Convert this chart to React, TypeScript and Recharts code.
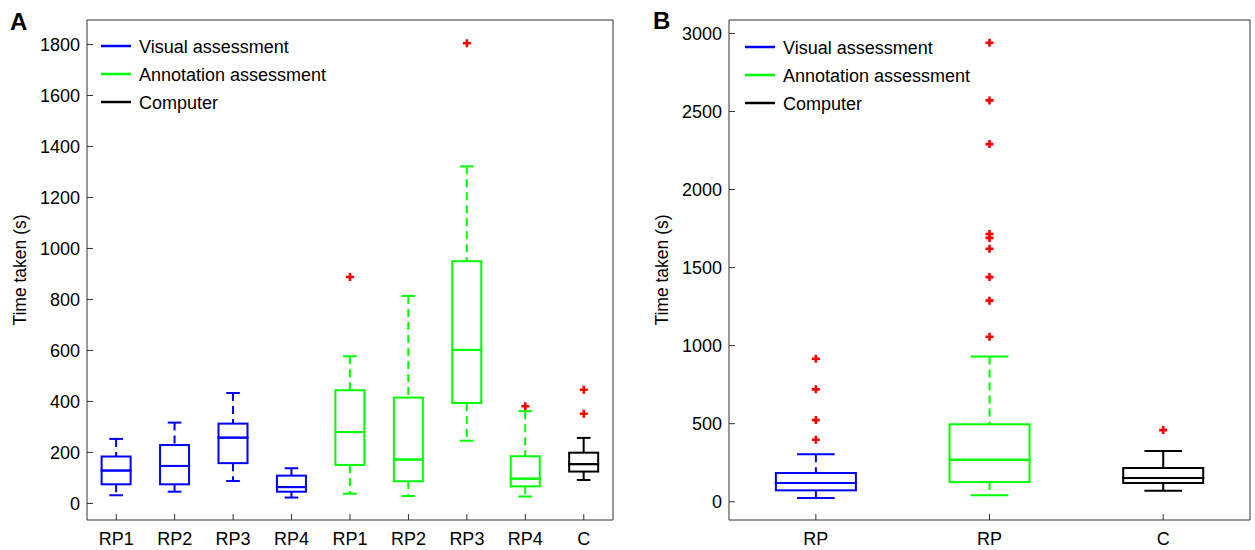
import { Bar, ComposedChart, Scatter, XAxis, YAxis } from 'recharts'

// Panel A: per-reader time, nine boxes
const A_KEYS = ['V-RP1', 'V-RP2', 'V-RP3', 'V-RP4', 'A-RP1', 'A-RP2', 'A-RP3', 'A-RP4', 'C']
const A_LABELS = ['RP1', 'RP2', 'RP3', 'RP4', 'RP1', 'RP2', 'RP3', 'RP4', 'C']
const A_GROUPS = ['visual', 'visual', 'visual', 'visual', 'annotation', 'annotation', 'annotation', 'annotation', 'computer']
const A_LO = [32, 46, 88, 23, 38, 29, 246, 27, 92]
const A_Q1 = [75, 75, 158, 46, 151, 87, 394, 67, 125]
const A_MED = [129, 147, 258, 64, 280, 172, 602, 97, 154]
const A_Q3 = [184, 229, 313, 109, 444, 415, 950, 185, 199]
const A_HI = [253, 317, 433, 138, 577, 814, 1322, 362, 257]
const A_OUT = [[], [], [], [], [888], [], [1805], [381], [446, 352]]
const A_TICKS = [0, 200, 400, 600, 800, 1000, 1200, 1400, 1600, 1800]

// Panel B: pooled
const B_KEYS = ['V-RP', 'A-RP', 'C']
const B_LABELS = ['RP', 'RP', 'C']
const B_GROUPS = ['visual', 'annotation', 'computer']
const B_LO = [24, 41, 70]
const B_Q1 = [73, 126, 120]
const B_MED = [120, 269, 152]
const B_Q3 = [184, 496, 216]
const B_HI = [304, 931, 325]
const B_OUT = [
  [916, 720, 523, 397],
  [2940, 2571, 2291, 1715, 1690, 1621, 1439, 1288, 1057],
  [459],
]
const B_TICKS = [0, 500, 1000, 1500, 2000, 2500, 3000]

const LEGEND = [
  { label: 'Visual assessment', group: 'visual' },
  { label: 'Annotation assessment', group: 'annotation' },
  { label: 'Computer', group: 'computer' },
]

const GROUP_STYLE: Record<string, { color: string; dash?: string }> = {
  visual: { color: '#0000ff', dash: '8 5' },
  annotation: { color: '#00ff00', dash: '8 5' },
  computer: { color: '#000000' },
}

const AXIS = '#333333'
const FONT = "'Liberation Sans', Arial, Helvetica, sans-serif"

function buildRows(
  keys: string[],
  labels: string[],
  groups: string[],
  lo: number[],
  q1: number[],
  med: number[],
  q3: number[],
  hi: number[],
  out: number[][],
) {
  return keys.map((key, i) => ({
    key,
    label: labels[i],
    group: groups[i],
    base: lo[i],
    wLow: q1[i] - lo[i],
    bLow: med[i] - q1[i],
    bHigh: q3[i] - med[i],
    wHigh: hi[i] - q3[i],
    out: out[i],
  }))
}

const A_ROWS = buildRows(A_KEYS, A_LABELS, A_GROUPS, A_LO, A_Q1, A_MED, A_Q3, A_HI, A_OUT)
const B_ROWS = buildRows(B_KEYS, B_LABELS, B_GROUPS, B_LO, B_Q1, B_MED, B_Q3, B_HI, B_OUT)

function BoxShape(props: any) {
  const { x, y, width, height, payload } = props
  const st = GROUP_STYLE[payload.group]
  return <rect x={x} y={y} width={width} height={height} fill="none" stroke={st.color} strokeWidth={2} />
}

function whiskerShape(end: 'low' | 'high') {
  return (props: any) => {
    const { x, y, width, height, payload } = props
    const st = GROUP_STYLE[payload.group]
    const cx = x + width / 2
    const capY = end === 'high' ? y : y + height
    const boxY = end === 'high' ? y + height : y
    const half = width * 0.235
    return (
      <g>
        <line x1={cx} x2={cx} y1={end === 'high' ? capY : boxY} y2={end === 'high' ? boxY : capY}
          stroke={st.color} strokeWidth={2} strokeDasharray={st.dash} />
        <line x1={cx - half} x2={cx + half} y1={capY} y2={capY} stroke={st.color} strokeWidth={2} />
      </g>
    )
  }
}

const WhiskerLow = whiskerShape('low')
const WhiskerHigh = whiskerShape('high')

function Plus(props: any) {
  const { cx, cy } = props
  if (cx == null || cy == null || !Number.isFinite(cx) || !Number.isFinite(cy)) return <g />
  return (
    <path d={`M${cx - 4},${cy}H${cx + 4}M${cx},${cy - 4}V${cy + 4}`} stroke="#ff0000" strokeWidth={2.6} />
  )
}

interface BoxPanelProps {
  rows: ReturnType<typeof buildRows>
  domain: [number, number]
  ticks: number[]
  gap: string
  left: number
  width: number
  marginLeft: number
  marginRight: number
}

function BoxPanel({ rows, domain, ticks, gap, left, width, marginLeft, marginRight }: BoxPanelProps) {
  const maxOut = Math.max(...rows.map((r) => r.out.length))
  return (
    <div style={{ position: 'absolute', left, top: 0 }}>
      <ComposedChart
        width={width}
        height={550}
        data={rows}
        margin={{ top: 19, right: marginRight, bottom: 0, left: marginLeft }}
        barCategoryGap={gap}
      >
        <XAxis
          dataKey="key"
          height={30}
          interval={0}
          tickFormatter={(_v: string, i: number) => rows[i]?.label ?? ''}
          tick={{ fill: '#000', fontSize: 18 }}
          tickSize={-6}
          tickMargin={18}
          axisLine={{ stroke: AXIS }}
          tickLine={{ stroke: AXIS }}
        />
        <XAxis
          xAxisId="top"
          dataKey="key"
          orientation="top"
          height={1}
          interval={0}
          tick={false}
          tickSize={-6}
          axisLine={{ stroke: AXIS }}
          tickLine={{ stroke: AXIS }}
        />
        <YAxis
          width={60}
          domain={domain}
          ticks={ticks}
          interval={0}
          allowDataOverflow
          tick={{ fill: '#000', fontSize: 18 }}
          tickSize={-6}
          tickMargin={13}
          axisLine={{ stroke: AXIS }}
          tickLine={{ stroke: AXIS }}
        />
        <YAxis
          yAxisId="right"
          orientation="right"
          width={1}
          domain={domain}
          ticks={ticks}
          interval={0}
          allowDataOverflow
          tick={false}
          tickSize={-6}
          axisLine={{ stroke: AXIS }}
          tickLine={{ stroke: AXIS }}
        />
        <Bar dataKey="base" stackId="box" fill="transparent" isAnimationActive={false} />
        <Bar dataKey="wLow" stackId="box" shape={WhiskerLow} isAnimationActive={false} />
        <Bar dataKey="bLow" stackId="box" shape={BoxShape} isAnimationActive={false} />
        <Bar dataKey="bHigh" stackId="box" shape={BoxShape} isAnimationActive={false} />
        <Bar dataKey="wHigh" stackId="box" shape={WhiskerHigh} isAnimationActive={false} />
        {Array.from({ length: maxOut }, (_, i) => (
          <Scatter
            key={`out-${i}`}
            dataKey={(r: any) => r.out[i]}
            shape={Plus}
            isAnimationActive={false}
          />
        ))}
      </ComposedChart>
    </div>
  )
}

function Legendary({ x, y }: { x: number; y: number }) {
  return (
    <g>
      {LEGEND.map((item, i) => (
        <g key={item.label}>
          <line x1={x} x2={x + 30} y1={y + i * 28} y2={y + i * 28}
            stroke={GROUP_STYLE[item.group].color} strokeWidth={2.5} />
          <text x={x + 38} y={y + i * 28 + 6.5} fontSize={18} fill="#000">{item.label}</text>
        </g>
      ))}
    </g>
  )
}

export default function App() {
  return (
    <div style={{ position: 'absolute', left: 0, top: 0, width: 1255, height: 550, background: '#fff', fontFamily: FONT }}>
      <BoxPanel rows={A_ROWS} domain={[-65, 1896]} ticks={A_TICKS} gap="25%" left={0} width={640} marginLeft={27} marginRight={26} />
      <BoxPanel rows={B_ROWS} domain={[-117, 3086]} ticks={B_TICKS} gap="27%" left={640} width={615} marginLeft={29} marginRight={4} />
      <svg width={1255} height={550} style={{ position: 'absolute', left: 0, top: 0, pointerEvents: 'none' }}>
        <text x={10} y={30} fontSize={24} fontWeight="bold" fill="#000">A</text>
        <text x={653} y={29} fontSize={24} fontWeight="bold" fill="#000">B</text>
        <text x={26} y={270} fontSize={17.5} fill="#000" textAnchor="middle" transform="rotate(-90 26 270)">Time taken (s)</text>
        <text x={668} y={270} fontSize={17.5} fill="#000" textAnchor="middle" transform="rotate(-90 668 270)">Time taken (s)</text>
        <Legendary x={101} y={46} />
        <Legendary x={745} y={47} />
      </svg>
    </div>
  )
}
